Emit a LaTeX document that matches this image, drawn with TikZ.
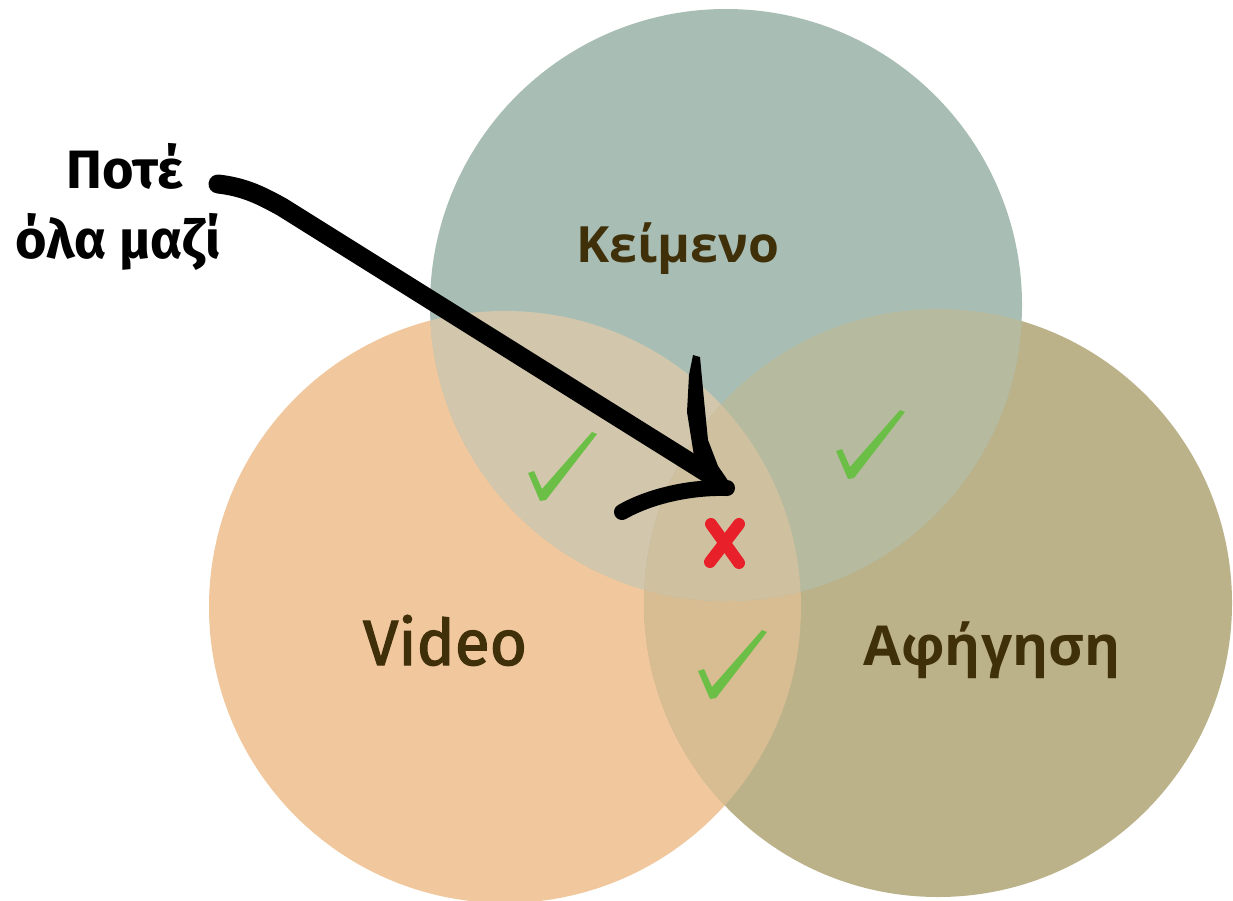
\documentclass[tikz,border=0pt]{standalone}
\usepackage{fontspec}
\setmainfont{Open Sans}
\newfontfamily\comicf{Fira Sans}[FakeBold=2]
\newfontfamily\comicbf{Fira Sans}
\newfontfamily\opensf{Open Sans}
\definecolor{cT}{HTML}{A8BEB5}
\definecolor{cL}{HTML}{F1C89D}
\definecolor{cR}{HTML}{BCB28A}
\definecolor{cTL}{HTML}{D2C7AC}
\definecolor{cTR}{HTML}{B6BA9E}
\definecolor{cLR}{HTML}{D8BC92}
\definecolor{cTLR}{HTML}{CFC09F}
\definecolor{txtbrown}{HTML}{3F300A}
\definecolor{chkgreen}{HTML}{6CBF46}
\definecolor{xred}{HTML}{E8202A}
\tikzset{
  lbl/.style={inner sep=0pt, anchor=base, text=txtbrown},
  brush/.style={draw=black, line width=#1, line cap=round, line join=round},
  chk/.style={fill=chkgreen},
}
\newcommand\chkmark[1]{%
  \fill[chk, shift={#1}] (-14,-27) -- (-8,-29) -- (0,-11) -- (50,-68) -- (55,-66) -- (4,0) -- (-2,1) -- cycle;}
\begin{document}
\begin{tikzpicture}[x=1pt,y=-1pt]
\useasboundingbox (0,0) rectangle (1233,900);
\fill[white] (0,0) rectangle (1233,900);
% circles
\def\rr{296}
\coordinate (T) at (726,305);
\coordinate (L) at (505,607);
\coordinate (R) at (938,603);
\fill[cL] (L) circle (\rr);
\fill[cR] (R) circle (294);
\fill[cT] (T) circle (\rr);
\begin{scope}
  \clip (L) circle (\rr);
  \fill[cLR] (R) circle (294);
\end{scope}
\begin{scope}
  \clip (T) circle (\rr);
  \fill[cTL] (L) circle (\rr);
  \fill[cTR] (R) circle (294);
  \clip (L) circle (\rr);
  \fill[cTLR] (R) circle (294);
\end{scope}
% labels
\node[lbl, font={\opensf\bfseries\fontsize{50}{60}\selectfont}] (keimeno) at (678,262) {Κείμενο};
\node[lbl, font={\comicf\fontsize{64}{76}\selectfont}] (video) at (445,665) {Video};
\node[lbl, font={\opensf\bfseries\fontsize{55}{66}\selectfont}] (afigisi) at (992,665) {Αφήγηση};
\node[lbl, text=black, font={\comicbf\bfseries\fontsize{54}{64}\selectfont}] (pote) at (125,188) {Ποτέ};
\node[lbl, text=black, font={\comicbf\bfseries\fontsize{54}{64}\selectfont}] (olamazi) at (118,258) {όλα μαζί};
% checks
\chkmark{(542,500)}
\chkmark{(850,478)}
\chkmark{(712,698)}
% red X
\node[inner sep=0pt, minimum size=1pt] (xmark) at (724,543) {};
\draw[xred, line width=12, line cap=round] (711,524) -- (739,563);
\draw[xred, line width=12, line cap=round] (739,524) -- (710,562);
% arrow
\coordinate (astart) at (218,184);
\coordinate (atip) at (727,488);
\draw[brush=19] (astart) .. controls (245,187) and (262,196) .. (282,207) -- (712,476);
\fill[black] (693,355) -- (700,357) -- (704,400) -- (708,440) -- (718,466) -- (731,485) -- (712,489) -- (694,456) -- (687,412) -- (689,375) -- cycle;
\draw[brush=16] (atip) .. controls (690,487) and (650,496) .. (622,512);
\fill[black] (atip) ++(6,-2) -- ++(-14,-6) -- ++(-6,12) -- cycle;
\end{tikzpicture}
\end{document}
